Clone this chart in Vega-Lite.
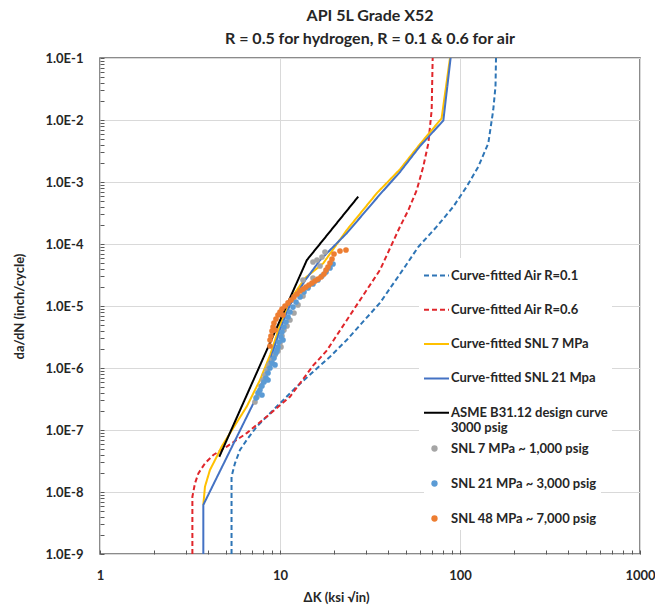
{
  "$schema": "https://vega.github.io/schema/vega-lite/v6.json",
  "width": 540,
  "height": 496,
  "autosize": "none",
  "padding": {"left": 100, "top": 58, "right": 15, "bottom": 53},
  "background": "white",
  "config": {
    "font": "Lato",
    "view": {"stroke": "#666666", "strokeWidth": 1.5},
    "axis": {"labelFont": "Lato", "titleFont": "Lato"},
    "legend": {"labelFont": "Lato"}
  },
  "title": {
    "text": ["API 5L Grade X52", "R = 0.5 for hydrogen, R = 0.1 & 0.6 for air"],
    "font": "Lato",
    "fontSize": 16,
    "fontWeight": "bold",
    "color": "#262626",
    "anchor": "middle",
    "lineHeight": 23,
    "offset": 5
  },
  "datasets": {
    "curves": [
      {"curve": "Curve-fitted Air R=0.1", "i": 1, "dk": 5.38, "dadn": 1e-9},
      {"curve": "Curve-fitted Air R=0.1", "i": 2, "dk": 5.38, "dadn": 1.77e-8},
      {"curve": "Curve-fitted Air R=0.1", "i": 3, "dk": 5.62, "dadn": 2.9e-8},
      {"curve": "Curve-fitted Air R=0.1", "i": 4, "dk": 5.99, "dadn": 4.75e-8},
      {"curve": "Curve-fitted Air R=0.1", "i": 5, "dk": 6.53, "dadn": 6.9e-8},
      {"curve": "Curve-fitted Air R=0.1", "i": 6, "dk": 7.42, "dadn": 1.13e-7},
      {"curve": "Curve-fitted Air R=0.1", "i": 7, "dk": 8.43, "dadn": 1.64e-7},
      {"curve": "Curve-fitted Air R=0.1", "i": 8, "dk": 10.0, "dadn": 2.7e-7},
      {"curve": "Curve-fitted Air R=0.1", "i": 9, "dk": 12.38, "dadn": 5.0e-7},
      {"curve": "Curve-fitted Air R=0.1", "i": 10, "dk": 15.3, "dadn": 8.7e-7},
      {"curve": "Curve-fitted Air R=0.1", "i": 11, "dk": 18.96, "dadn": 1.52e-6},
      {"curve": "Curve-fitted Air R=0.1", "i": 12, "dk": 23.48, "dadn": 2.83e-6},
      {"curve": "Curve-fitted Air R=0.1", "i": 13, "dk": 35.9, "dadn": 1.12e-5},
      {"curve": "Curve-fitted Air R=0.1", "i": 14, "dk": 50.0, "dadn": 4.5e-5},
      {"curve": "Curve-fitted Air R=0.1", "i": 15, "dk": 58.7, "dadn": 9.0e-5},
      {"curve": "Curve-fitted Air R=0.1", "i": 16, "dk": 74.2, "dadn": 1.9e-4},
      {"curve": "Curve-fitted Air R=0.1", "i": 17, "dk": 91.8, "dadn": 4.0e-4},
      {"curve": "Curve-fitted Air R=0.1", "i": 18, "dk": 108.9, "dadn": 8.4e-4},
      {"curve": "Curve-fitted Air R=0.1", "i": 19, "dk": 126.4, "dadn": 1.77e-3},
      {"curve": "Curve-fitted Air R=0.1", "i": 20, "dk": 143.6, "dadn": 4.2e-3},
      {"curve": "Curve-fitted Air R=0.1", "i": 21, "dk": 153.0, "dadn": 1.45e-2},
      {"curve": "Curve-fitted Air R=0.1", "i": 22, "dk": 157.5, "dadn": 3.5e-2},
      {"curve": "Curve-fitted Air R=0.1", "i": 23, "dk": 158.5, "dadn": 1e-1},
      {"curve": "Curve-fitted Air R=0.6", "i": 1, "dk": 3.26, "dadn": 1e-9},
      {"curve": "Curve-fitted Air R=0.6", "i": 2, "dk": 3.26, "dadn": 8.4e-9},
      {"curve": "Curve-fitted Air R=0.6", "i": 3, "dk": 3.37, "dadn": 1.38e-8},
      {"curve": "Curve-fitted Air R=0.6", "i": 4, "dk": 3.52, "dadn": 2.0e-8},
      {"curve": "Curve-fitted Air R=0.6", "i": 5, "dk": 3.83, "dadn": 2.9e-8},
      {"curve": "Curve-fitted Air R=0.6", "i": 6, "dk": 4.26, "dadn": 3.95e-8},
      {"curve": "Curve-fitted Air R=0.6", "i": 7, "dk": 5.06, "dadn": 5.4e-8},
      {"curve": "Curve-fitted Air R=0.6", "i": 8, "dk": 6.53, "dadn": 8.9e-8},
      {"curve": "Curve-fitted Air R=0.6", "i": 9, "dk": 8.43, "dadn": 1.64e-7},
      {"curve": "Curve-fitted Air R=0.6", "i": 10, "dk": 11.36, "dadn": 3.44e-7},
      {"curve": "Curve-fitted Air R=0.6", "i": 11, "dk": 15.3, "dadn": 1.1e-6},
      {"curve": "Curve-fitted Air R=0.6", "i": 12, "dk": 18.17, "dadn": 1.9e-6},
      {"curve": "Curve-fitted Air R=0.6", "i": 13, "dk": 23.48, "dadn": 5.9e-6},
      {"curve": "Curve-fitted Air R=0.6", "i": 14, "dk": 35.9, "dadn": 3.8e-5},
      {"curve": "Curve-fitted Air R=0.6", "i": 15, "dk": 46.4, "dadn": 1.9e-4},
      {"curve": "Curve-fitted Air R=0.6", "i": 16, "dk": 51.6, "dadn": 3.5e-4},
      {"curve": "Curve-fitted Air R=0.6", "i": 17, "dk": 57.5, "dadn": 7.4e-4},
      {"curve": "Curve-fitted Air R=0.6", "i": 18, "dk": 62.5, "dadn": 1.77e-3},
      {"curve": "Curve-fitted Air R=0.6", "i": 19, "dk": 66.7, "dadn": 4.2e-3},
      {"curve": "Curve-fitted Air R=0.6", "i": 20, "dk": 69.6, "dadn": 1.45e-2},
      {"curve": "Curve-fitted Air R=0.6", "i": 21, "dk": 70.5, "dadn": 1e-1},
      {"curve": "Curve-fitted SNL 7 MPa", "i": 1, "dk": 3.75, "dadn": 6.2e-9},
      {"curve": "Curve-fitted SNL 7 MPa", "i": 2, "dk": 3.83, "dadn": 1.22e-8},
      {"curve": "Curve-fitted SNL 7 MPa", "i": 3, "dk": 4.08, "dadn": 2.26e-8},
      {"curve": "Curve-fitted SNL 7 MPa", "i": 4, "dk": 4.45, "dadn": 3.7e-8},
      {"curve": "Curve-fitted SNL 7 MPa", "i": 5, "dk": 4.74, "dadn": 5.4e-8},
      {"curve": "Curve-fitted SNL 7 MPa", "i": 6, "dk": 5.27, "dadn": 8.85e-8},
      {"curve": "Curve-fitted SNL 7 MPa", "i": 7, "dk": 6.53, "dadn": 2.38e-7},
      {"curve": "Curve-fitted SNL 7 MPa", "i": 8, "dk": 7.74, "dadn": 6.4e-7},
      {"curve": "Curve-fitted SNL 7 MPa", "i": 9, "dk": 8.81, "dadn": 1.62e-6},
      {"curve": "Curve-fitted SNL 7 MPa", "i": 10, "dk": 10.0, "dadn": 4.9e-6},
      {"curve": "Curve-fitted SNL 7 MPa", "i": 11, "dk": 11.36, "dadn": 1.25e-5},
      {"curve": "Curve-fitted SNL 7 MPa", "i": 12, "dk": 13.8, "dadn": 2.83e-5},
      {"curve": "Curve-fitted SNL 7 MPa", "i": 13, "dk": 17.4, "dadn": 4.9e-5},
      {"curve": "Curve-fitted SNL 7 MPa", "i": 14, "dk": 23.5, "dadn": 1.68e-4},
      {"curve": "Curve-fitted SNL 7 MPa", "i": 15, "dk": 34.5, "dadn": 6.6e-4},
      {"curve": "Curve-fitted SNL 7 MPa", "i": 16, "dk": 46.4, "dadn": 1.6e-3},
      {"curve": "Curve-fitted SNL 7 MPa", "i": 17, "dk": 60.0, "dadn": 4.1e-3},
      {"curve": "Curve-fitted SNL 7 MPa", "i": 18, "dk": 79.0, "dadn": 1.06e-2},
      {"curve": "Curve-fitted SNL 7 MPa", "i": 19, "dk": 88.0, "dadn": 1e-1},
      {"curve": "Curve-fitted SNL 21 Mpa", "i": 1, "dk": 3.75, "dadn": 1e-9},
      {"curve": "Curve-fitted SNL 21 Mpa", "i": 2, "dk": 3.75, "dadn": 6.2e-9},
      {"curve": "Curve-fitted SNL 21 Mpa", "i": 3, "dk": 7.42, "dadn": 3.45e-7},
      {"curve": "Curve-fitted SNL 21 Mpa", "i": 4, "dk": 8.81, "dadn": 1.35e-6},
      {"curve": "Curve-fitted SNL 21 Mpa", "i": 5, "dk": 10.0, "dadn": 4.1e-6},
      {"curve": "Curve-fitted SNL 21 Mpa", "i": 6, "dk": 11.36, "dadn": 1.04e-5},
      {"curve": "Curve-fitted SNL 21 Mpa", "i": 7, "dk": 13.8, "dadn": 2.6e-5},
      {"curve": "Curve-fitted SNL 21 Mpa", "i": 8, "dk": 16.7, "dadn": 5.5e-5},
      {"curve": "Curve-fitted SNL 21 Mpa", "i": 9, "dk": 23.48, "dadn": 1.49e-4},
      {"curve": "Curve-fitted SNL 21 Mpa", "i": 10, "dk": 35.9, "dadn": 6.3e-4},
      {"curve": "Curve-fitted SNL 21 Mpa", "i": 11, "dk": 46.4, "dadn": 1.45e-3},
      {"curve": "Curve-fitted SNL 21 Mpa", "i": 12, "dk": 60.0, "dadn": 3.8e-3},
      {"curve": "Curve-fitted SNL 21 Mpa", "i": 13, "dk": 80.8, "dadn": 9.8e-3},
      {"curve": "Curve-fitted SNL 21 Mpa", "i": 14, "dk": 88.7, "dadn": 1e-1},
      {"curve": "ASME B31.12 design curve 3000 psig", "i": 1, "dk": 4.6, "dadn": 3.7e-8},
      {"curve": "ASME B31.12 design curve 3000 psig", "i": 2, "dk": 14.1, "dadn": 5.5e-5},
      {"curve": "ASME B31.12 design curve 3000 psig", "i": 3, "dk": 27.2, "dadn": 5.8e-4}
    ],
    "points": [
      {"series": "SNL 7 MPa ~ 1,000 psig", "dk": 7.26, "dadn": 2.83e-7},
      {"series": "SNL 7 MPa ~ 1,000 psig", "dk": 7.45, "dadn": 3.4e-7},
      {"series": "SNL 7 MPa ~ 1,000 psig", "dk": 7.64, "dadn": 4.1e-7},
      {"series": "SNL 7 MPa ~ 1,000 psig", "dk": 7.84, "dadn": 5.13e-7},
      {"series": "SNL 7 MPa ~ 1,000 psig", "dk": 8.04, "dadn": 6.4e-7},
      {"series": "SNL 7 MPa ~ 1,000 psig", "dk": 8.25, "dadn": 7.71e-7},
      {"series": "SNL 7 MPa ~ 1,000 psig", "dk": 8.47, "dadn": 9.29e-7},
      {"series": "SNL 7 MPa ~ 1,000 psig", "dk": 8.69, "dadn": 1.12e-6},
      {"series": "SNL 7 MPa ~ 1,000 psig", "dk": 9.03, "dadn": 1.35e-6},
      {"series": "SNL 7 MPa ~ 1,000 psig", "dk": 9.38, "dadn": 1.62e-6},
      {"series": "SNL 7 MPa ~ 1,000 psig", "dk": 9.75, "dadn": 1.88e-6},
      {"series": "SNL 7 MPa ~ 1,000 psig", "dk": 10.13, "dadn": 2.18e-6},
      {"series": "SNL 7 MPa ~ 1,000 psig", "dk": 10.0, "dadn": 2.53e-6},
      {"series": "SNL 7 MPa ~ 1,000 psig", "dk": 10.26, "dadn": 3.28e-6},
      {"series": "SNL 7 MPa ~ 1,000 psig", "dk": 10.52, "dadn": 4.1e-6},
      {"series": "SNL 7 MPa ~ 1,000 psig", "dk": 10.94, "dadn": 4.75e-6},
      {"series": "SNL 7 MPa ~ 1,000 psig", "dk": 11.36, "dadn": 5.94e-6},
      {"series": "SNL 7 MPa ~ 1,000 psig", "dk": 11.96, "dadn": 7.71e-6},
      {"series": "SNL 7 MPa ~ 1,000 psig", "dk": 12.59, "dadn": 1.04e-5},
      {"series": "SNL 7 MPa ~ 1,000 psig", "dk": 13.42, "dadn": 1.45e-5},
      {"series": "SNL 7 MPa ~ 1,000 psig", "dk": 14.3, "dadn": 2.02e-5},
      {"series": "SNL 7 MPa ~ 1,000 psig", "dk": 15.25, "dadn": 2.83e-5},
      {"series": "SNL 7 MPa ~ 1,000 psig", "dk": 15.25, "dadn": 5.13e-5},
      {"series": "SNL 7 MPa ~ 1,000 psig", "dk": 16.05, "dadn": 5.52e-5},
      {"series": "SNL 7 MPa ~ 1,000 psig", "dk": 17.11, "dadn": 6.17e-5},
      {"series": "SNL 7 MPa ~ 1,000 psig", "dk": 17.78, "dadn": 7.43e-5},
      {"series": "SNL 7 MPa ~ 1,000 psig", "dk": 16.68, "dadn": 4.42e-5},
      {"series": "SNL 7 MPa ~ 1,000 psig", "dk": 13.42, "dadn": 2.63e-5},
      {"series": "SNL 21 MPa ~ 3,000 psig", "dk": 7.36, "dadn": 3.28e-7},
      {"series": "SNL 21 MPa ~ 3,000 psig", "dk": 7.55, "dadn": 3.95e-7},
      {"series": "SNL 21 MPa ~ 3,000 psig", "dk": 7.74, "dadn": 4.42e-7},
      {"series": "SNL 21 MPa ~ 3,000 psig", "dk": 7.94, "dadn": 5.13e-7},
      {"series": "SNL 21 MPa ~ 3,000 psig", "dk": 8.15, "dadn": 5.95e-7},
      {"series": "SNL 21 MPa ~ 3,000 psig", "dk": 8.36, "dadn": 6.9e-7},
      {"series": "SNL 21 MPa ~ 3,000 psig", "dk": 8.58, "dadn": 8.3e-7},
      {"series": "SNL 21 MPa ~ 3,000 psig", "dk": 8.8, "dadn": 1.0e-6},
      {"series": "SNL 21 MPa ~ 3,000 psig", "dk": 9.03, "dadn": 1.2e-6},
      {"series": "SNL 21 MPa ~ 3,000 psig", "dk": 9.26, "dadn": 1.45e-6},
      {"series": "SNL 21 MPa ~ 3,000 psig", "dk": 9.5, "dadn": 1.75e-6},
      {"series": "SNL 21 MPa ~ 3,000 psig", "dk": 9.75, "dadn": 2.18e-6},
      {"series": "SNL 21 MPa ~ 3,000 psig", "dk": 9.87, "dadn": 2.62e-6},
      {"series": "SNL 21 MPa ~ 3,000 psig", "dk": 10.13, "dadn": 3.16e-6},
      {"series": "SNL 21 MPa ~ 3,000 psig", "dk": 10.26, "dadn": 3.81e-6},
      {"series": "SNL 21 MPa ~ 3,000 psig", "dk": 10.52, "dadn": 4.58e-6},
      {"series": "SNL 21 MPa ~ 3,000 psig", "dk": 10.8, "dadn": 5.52e-6},
      {"series": "SNL 21 MPa ~ 3,000 psig", "dk": 11.08, "dadn": 6.65e-6},
      {"series": "SNL 21 MPa ~ 3,000 psig", "dk": 11.36, "dadn": 8.0e-6},
      {"series": "SNL 21 MPa ~ 3,000 psig", "dk": 11.81, "dadn": 9.6e-6},
      {"series": "SNL 21 MPa ~ 3,000 psig", "dk": 12.27, "dadn": 1.16e-5},
      {"series": "SNL 21 MPa ~ 3,000 psig", "dk": 12.92, "dadn": 1.4e-5},
      {"series": "SNL 21 MPa ~ 3,000 psig", "dk": 13.59, "dadn": 1.68e-5},
      {"series": "SNL 21 MPa ~ 3,000 psig", "dk": 14.3, "dadn": 1.95e-5},
      {"series": "SNL 21 MPa ~ 3,000 psig", "dk": 15.25, "dadn": 2.26e-5},
      {"series": "SNL 21 MPa ~ 3,000 psig", "dk": 16.26, "dadn": 2.63e-5},
      {"series": "SNL 21 MPa ~ 3,000 psig", "dk": 17.11, "dadn": 3.05e-5},
      {"series": "SNL 21 MPa ~ 3,000 psig", "dk": 18.02, "dadn": 3.53e-5},
      {"series": "SNL 21 MPa ~ 3,000 psig", "dk": 18.96, "dadn": 4.1e-5},
      {"series": "SNL 21 MPa ~ 3,000 psig", "dk": 19.7, "dadn": 4.75e-5},
      {"series": "SNL 21 MPa ~ 3,000 psig", "dk": 9.62, "dadn": 1.95e-6},
      {"series": "SNL 21 MPa ~ 3,000 psig", "dk": 10.39, "dadn": 2.83e-6},
      {"series": "SNL 21 MPa ~ 3,000 psig", "dk": 9.38, "dadn": 1.12e-6},
      {"series": "SNL 21 MPa ~ 3,000 psig", "dk": 7.94, "dadn": 3.67e-7},
      {"series": "SNL 21 MPa ~ 3,000 psig", "dk": 8.58, "dadn": 6.4e-7},
      {"series": "SNL 48 MPa ~ 7,000 psig", "dk": 8.8, "dadn": 2.26e-6},
      {"series": "SNL 48 MPa ~ 7,000 psig", "dk": 8.8, "dadn": 2.83e-6},
      {"series": "SNL 48 MPa ~ 7,000 psig", "dk": 8.91, "dadn": 3.28e-6},
      {"series": "SNL 48 MPa ~ 7,000 psig", "dk": 9.03, "dadn": 3.95e-6},
      {"series": "SNL 48 MPa ~ 7,000 psig", "dk": 9.15, "dadn": 4.58e-6},
      {"series": "SNL 48 MPa ~ 7,000 psig", "dk": 9.26, "dadn": 5.32e-6},
      {"series": "SNL 48 MPa ~ 7,000 psig", "dk": 9.5, "dadn": 6.17e-6},
      {"series": "SNL 48 MPa ~ 7,000 psig", "dk": 9.75, "dadn": 7.16e-6},
      {"series": "SNL 48 MPa ~ 7,000 psig", "dk": 10.0, "dadn": 8.0e-6},
      {"series": "SNL 48 MPa ~ 7,000 psig", "dk": 10.26, "dadn": 8.95e-6},
      {"series": "SNL 48 MPa ~ 7,000 psig", "dk": 10.66, "dadn": 1.0e-5},
      {"series": "SNL 48 MPa ~ 7,000 psig", "dk": 11.08, "dadn": 1.12e-5},
      {"series": "SNL 48 MPa ~ 7,000 psig", "dk": 11.51, "dadn": 1.25e-5},
      {"series": "SNL 48 MPa ~ 7,000 psig", "dk": 11.96, "dadn": 1.4e-5},
      {"series": "SNL 48 MPa ~ 7,000 psig", "dk": 12.43, "dadn": 1.56e-5},
      {"series": "SNL 48 MPa ~ 7,000 psig", "dk": 12.92, "dadn": 1.75e-5},
      {"series": "SNL 48 MPa ~ 7,000 psig", "dk": 13.42, "dadn": 1.88e-5},
      {"series": "SNL 48 MPa ~ 7,000 psig", "dk": 13.94, "dadn": 2.02e-5},
      {"series": "SNL 48 MPa ~ 7,000 psig", "dk": 14.49, "dadn": 2.18e-5},
      {"series": "SNL 48 MPa ~ 7,000 psig", "dk": 15.06, "dadn": 2.35e-5},
      {"series": "SNL 48 MPa ~ 7,000 psig", "dk": 15.65, "dadn": 2.53e-5},
      {"series": "SNL 48 MPa ~ 7,000 psig", "dk": 16.26, "dadn": 2.72e-5},
      {"series": "SNL 48 MPa ~ 7,000 psig", "dk": 16.89, "dadn": 2.94e-5},
      {"series": "SNL 48 MPa ~ 7,000 psig", "dk": 17.55, "dadn": 3.28e-5},
      {"series": "SNL 48 MPa ~ 7,000 psig", "dk": 18.02, "dadn": 3.81e-5},
      {"series": "SNL 48 MPa ~ 7,000 psig", "dk": 18.48, "dadn": 4.26e-5},
      {"series": "SNL 48 MPa ~ 7,000 psig", "dk": 18.96, "dadn": 4.94e-5},
      {"series": "SNL 48 MPa ~ 7,000 psig", "dk": 19.45, "dadn": 5.73e-5},
      {"series": "SNL 48 MPa ~ 7,000 psig", "dk": 19.95, "dadn": 6.9e-5},
      {"series": "SNL 48 MPa ~ 7,000 psig", "dk": 21.54, "dadn": 7.71e-5},
      {"series": "SNL 48 MPa ~ 7,000 psig", "dk": 23.26, "dadn": 8.0e-5},
      {"series": "SNL 48 MPa ~ 7,000 psig", "dk": 9.38, "dadn": 4.1e-6},
      {"series": "SNL 48 MPa ~ 7,000 psig", "dk": 10.39, "dadn": 7.16e-6}
    ]
  },
  "encoding": {
    "x": {
      "field": "dk",
      "type": "quantitative",
      "scale": {"type": "log", "domain": [1, 1000], "nice": false},
      "axis": {
        "title": "ΔK (ksi √in)",
        "titleFontSize": 13,
        "titleFontWeight": "bold",
        "titleColor": "#262626",
        "titleX": 236,
        "titleY": 43,
        "titleAlign": "center",
        "titleBaseline": "middle",
        "titleAnchor": null,
        "values": [1,2,3,4,5,6,7,8,9,10,20,30,40,50,60,70,80,90,100,200,300,400,500,600,700,800,900,1000],
        "labelExpr": "abs(log(datum.value)/LN10 - round(log(datum.value)/LN10)) < 0.001 ? format(datum.value, 'd') : ''",
        "labelFontSize": 13,
        "labelFontWeight": "bold",
        "labelColor": "#262626",
        "labelPadding": 25,
        "labelFlush": false,
        "labelOverlap": false,
        "labelBaseline": "middle",
        "domain": false,
        "ticks": true,
        "tickSize": -4,
        "tickColor": "#595959",
        "tickWidth": 1,
        "grid": true,
        "gridColor": "#d9d9d9",
        "gridOpacity": {"condition": {"test": "abs(log(datum.value)/LN10 - round(log(datum.value)/LN10)) < 0.001", "value": 1}, "value": 0}
      }
    },
    "y": {
      "field": "dadn",
      "type": "quantitative",
      "scale": {"type": "log", "domain": [1e-9, 1e-1], "nice": false},
      "axis": {
        "title": "da/dN (inch/cycle)",
        "titleFontSize": 13,
        "titleFontWeight": "bold",
        "titleColor": "#262626",
        "titlePadding": 18,
        "values": [1e-9,2e-9,3e-9,4e-9,5e-9,6e-9,7e-9,8e-9,9e-9,1e-8,2e-8,3e-8,4e-8,5e-8,6e-8,7e-8,8e-8,9e-8,1e-7,2e-7,3e-7,4e-7,5e-7,6e-7,7e-7,8e-7,9e-7,1e-6,2e-6,3e-6,4e-6,5e-6,6e-6,7e-6,8e-6,9e-6,1e-5,2e-5,3e-5,4e-5,5e-5,6e-5,7e-5,8e-5,9e-5,1e-4,2e-4,3e-4,4e-4,5e-4,6e-4,7e-4,8e-4,9e-4,1e-3,2e-3,3e-3,4e-3,5e-3,6e-3,7e-3,8e-3,9e-3,1e-2,2e-2,3e-2,4e-2,5e-2,6e-2,7e-2,8e-2,9e-2,1e-1],
        "labelExpr": "abs(log(datum.value)/LN10 - round(log(datum.value)/LN10)) < 0.001 ? '1.0E' + round(log(datum.value)/LN10) : ''",
        "labelFontSize": 13,
        "labelFontWeight": "bold",
        "labelColor": "#262626",
        "labelPadding": 21,
        "labelFlush": false,
        "labelOverlap": false,
        "domain": false,
        "ticks": true,
        "tickSize": -4,
        "tickColor": "#595959",
        "tickWidth": 1,
        "grid": true,
        "gridColor": "#d9d9d9",
        "gridOpacity": {"condition": {"test": "abs(log(datum.value)/LN10 - round(log(datum.value)/LN10)) < 0.001", "value": 1}, "value": 0}
      }
    }
  },
  "layer": [
    {
      "data": {"name": "curves"},
      "mark": {"type": "line", "strokeWidth": 2, "clip": true},
      "encoding": {
        "order": {"field": "i", "type": "quantitative"},
        "stroke": {
          "field": "curve",
          "type": "nominal",
          "scale": {
            "domain": ["Curve-fitted Air R=0.1", "Curve-fitted Air R=0.6", "Curve-fitted SNL 7 MPa", "Curve-fitted SNL 21 Mpa", "ASME B31.12 design curve 3000 psig"],
            "range": ["#2E75B6", "#E0262B", "#FFC000", "#4472C4", "#000000"]
          },
          "legend": {
            "title": null,
            "orient": "none",
            "legendX": 319,
            "legendY": 200,
            "symbolType": "stroke",
            "symbolSize": 625,
            "symbolStrokeWidth": 2,
            "labelFontSize": 13,
            "labelFontWeight": "bold",
            "labelColor": "#262626",
            "labelOffset": 1,
            "rowPadding": 13.3,
            "labelLimit": 300,
            "fillColor": "white",
            "padding": 4,
            "labelExpr": "datum.label == 'ASME B31.12 design curve 3000 psig' ? ['ASME B31.12 design curve', '3000 psig'] : datum.label"
          }
        },
        "strokeDash": {
          "field": "curve",
          "type": "nominal",
          "scale": {
            "domain": ["Curve-fitted Air R=0.1", "Curve-fitted Air R=0.6", "Curve-fitted SNL 7 MPa", "Curve-fitted SNL 21 Mpa", "ASME B31.12 design curve 3000 psig"],
            "range": [[5, 3], [5, 3], [1, 0], [1, 0], [1, 0]]
          },
          "legend": {
            "title": null,
            "orient": "none",
            "legendX": 319,
            "legendY": 200,
            "symbolType": "stroke",
            "symbolSize": 625,
            "symbolStrokeWidth": 2,
            "labelFontSize": 13,
            "labelFontWeight": "bold",
            "labelColor": "#262626",
            "labelOffset": 1,
            "rowPadding": 13.3,
            "labelLimit": 300,
            "fillColor": "white",
            "padding": 4,
            "labelExpr": "datum.label == 'ASME B31.12 design curve 3000 psig' ? ['ASME B31.12 design curve', '3000 psig'] : datum.label"
          }
        }
      }
    },
    {
      "data": {"name": "points"},
      "mark": {"type": "circle", "size": 32, "opacity": 1, "clip": true},
      "encoding": {
        "fill": {
          "field": "series",
          "type": "nominal",
          "scale": {
            "domain": ["SNL 7 MPa ~ 1,000 psig", "SNL 21 MPa ~ 3,000 psig", "SNL 48 MPa ~ 7,000 psig"],
            "range": ["#A5A5A5", "#5B9BD5", "#ED7D31"]
          },
          "legend": {
            "title": null,
            "orient": "none",
            "legendX": 324,
            "legendY": 380,
            "symbolType": "circle",
            "symbolSize": 40,
            "symbolStrokeWidth": 0,
            "labelFontSize": 13,
            "labelFontWeight": "bold",
            "labelColor": "#262626",
            "labelOffset": 10,
            "rowPadding": 21,
            "labelLimit": 300,
            "fillColor": "white",
            "padding": 4
          }
        }
      }
    }
  ]
}
